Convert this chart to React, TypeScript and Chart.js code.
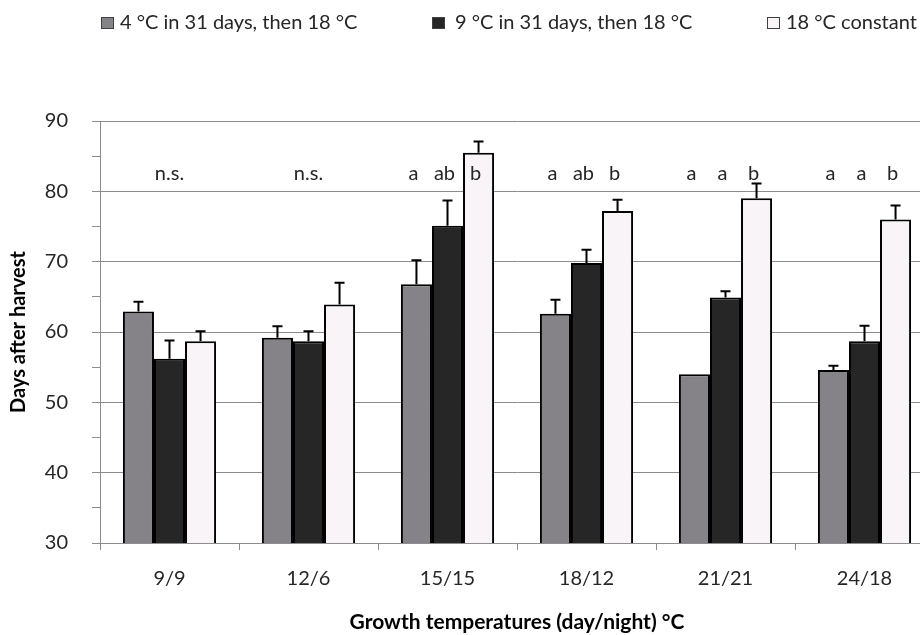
import React, { useEffect, useRef } from "react";
import { Chart, registerables } from "chart.js";

Chart.register(...registerables);

const categories = ["9/9", "12/6", "15/15", "18/12", "21/21", "24/18"];
const seriesLabels = ["4 °C in 31 days, then 18 °C", "9 °C in 31 days, then 18 °C", "18 °C constant"];
const cold4 = [62.9, 59.2, 66.8, 62.6, 54.0, 54.6];
const cold4Err = [1.4, 1.6, 3.4, 2.0, 0, 0.6];
const cold9 = [56.2, 58.7, 75.1, 69.8, 64.9, 58.7];
const cold9Err = [2.6, 1.4, 3.6, 1.9, 0.9, 2.2];
const constant18 = [58.7, 63.9, 85.5, 77.2, 79.0, 76.0];
const constant18Err = [1.4, 3.1, 1.6, 1.6, 2.1, 2.0];
const significance: (string | string[])[] = [
  "n.s.",
  "n.s.",
  ["a", "ab", "b"],
  ["a", "ab", "b"],
  ["a", "a", "b"],
  ["a", "a", "b"],
];
const annotationLevel = 81.6;
const yMin = 30;
const yMax = 90;

const FONT = "Lato, 'Open Sans', sans-serif";
const TEXT = "#262626";
const GRID = "#8c8c8c";

const errorBarPlugin = {
  id: "errorBars",
  afterDatasetsDraw(chart: any) {
    const ctx = chart.ctx;
    const yScale = chart.scales.y;
    ctx.save();
    ctx.strokeStyle = "#000";
    ctx.lineWidth = 2;
    chart.data.datasets.forEach((ds: any, d: number) => {
      const meta = chart.getDatasetMeta(d);
      meta.data.forEach((el: any, i: number) => {
        const err = ds.errors[i];
        if (!err) return;
        const x = el.x;
        const yTop = yScale.getPixelForValue(ds.data[i]);
        const yErr = yScale.getPixelForValue(ds.data[i] + err);
        ctx.beginPath();
        ctx.moveTo(x, yTop);
        ctx.lineTo(x, yErr);
        ctx.moveTo(x - 5, yErr);
        ctx.lineTo(x + 5, yErr);
        ctx.stroke();
      });
    });
    ctx.restore();
  },
};

const letterPlugin = {
  id: "letters",
  afterDatasetsDraw(chart: any) {
    const ctx = chart.ctx;
    const xScale = chart.scales.x;
    const y = chart.scales.y.getPixelForValue(annotationLevel);
    ctx.save();
    ctx.font = `20px ${FONT}`;
    ctx.fillStyle = TEXT;
    ctx.textAlign = "center";
    ctx.textBaseline = "alphabetic";
    significance.forEach((s, i) => {
      if (typeof s === "string") {
        ctx.fillText(s, xScale.getPixelForValue(i), y);
      } else {
        s.forEach((letter, d) => {
          const el = chart.getDatasetMeta(d).data[i];
          ctx.fillText(letter, el.x - 3, y);
        });
      }
    });
    ctx.restore();
  },
};

const legendPlugin = {
  id: "topLegend",
  afterDraw(chart: any) {
    const ctx = chart.ctx;
    const left = chart.chartArea.left;
    const boxOffsets = [1, 332, 667];
    const textOffsets = [20, 355, 686];
    const y = 23;
    ctx.save();
    ctx.font = `20px ${FONT}`;
    ctx.textBaseline = "middle";
    ctx.textAlign = "left";
    chart.data.datasets.forEach((ds: any, d: number) => {
      const bx = left + boxOffsets[d];
      ctx.fillStyle = ds.backgroundColor;
      ctx.fillRect(bx, y - 6, 13, 12);
      ctx.strokeStyle = "#404040";
      ctx.lineWidth = 1;
      ctx.strokeRect(bx + 0.5, y - 5.5, 12, 11);
      ctx.fillStyle = TEXT;
      ctx.fillText(ds.label, left + textOffsets[d], y);
    });
    ctx.restore();
  },
};

export default function App() {
  const canvasRef = useRef<HTMLCanvasElement | null>(null);

  useEffect(() => {
    if (!canvasRef.current) return;
    const chart = new Chart(canvasRef.current, {
      type: "bar",
      data: {
        labels: categories,
        datasets: [
          {
            label: seriesLabels[0],
            data: cold4,
            errors: cold4Err,
            backgroundColor: "#858387",
            borderColor: "#000",
            borderWidth: 2,
          } as any,
          {
            label: seriesLabels[1],
            data: cold9,
            errors: cold9Err,
            backgroundColor: "#262626",
            borderColor: "#000",
            borderWidth: 2,
          } as any,
          {
            label: seriesLabels[2],
            data: constant18,
            errors: constant18Err,
            backgroundColor: "#f8f4f8",
            borderColor: "#000",
            borderWidth: 2,
          } as any,
        ],
      },
      options: {
        animation: false,
        responsive: true,
        maintainAspectRatio: false,
        layout: { padding: { top: 121, right: 16, left: 0, bottom: 0 } },
        datasets: { bar: { categoryPercentage: 0.67, barPercentage: 1.0 } },
        plugins: {
          legend: { display: false },
          tooltip: { enabled: false },
        },
        scales: {
          x: {
            afterFit: (scale: any) => {
              scale.height = 92;
            },
            grid: {
              offset: true,
              drawOnChartArea: false,
              drawTicks: true,
              tickLength: 7,
              color: GRID,
            },
            border: { display: true, color: GRID, width: 1 },
            ticks: {
              color: TEXT,
              font: { family: FONT, size: 20 },
              padding: 17,
            },
            title: {
              display: true,
              text: "Growth temperatures (day/night) °C",
              color: "#000",
              font: { family: FONT, size: 21, weight: "bold" },
              padding: { top: 0, bottom: 0 },
            },
          },
          y: {
            min: yMin,
            max: yMax,
            afterFit: (scale: any) => {
              scale.width = 100;
            },
            grid: {
              color: (ctx: any) => (ctx.tick && ctx.tick.value % 10 === 0 ? GRID : "rgba(0,0,0,0)"),
              tickColor: GRID,
              tickLength: 8,
              drawTicks: true,
            },
            border: { display: true, color: GRID, width: 1 },
            ticks: {
              stepSize: 5,
              color: TEXT,
              font: { family: FONT, size: 20 },
              padding: 24,
              callback: (v: any) => (Number(v) % 10 === 0 ? String(v) : ""),
            },
            title: {
              display: true,
              text: "Days after harvest",
              color: "#000",
              font: { family: FONT, size: 20, weight: "bold" },
              padding: { top: 7, bottom: 0 },
            },
          },
        },
      } as any,
      plugins: [errorBarPlugin, letterPlugin, legendPlugin],
    });
    return () => chart.destroy();
  }, []);

  return (
    <div style={{ position: "fixed", left: 0, top: 0, width: 920, height: 635, overflow: "hidden", background: "#fff" }}>
      <div style={{ position: "relative", width: 950, height: 635 }}>
        <canvas ref={canvasRef} />
      </div>
    </div>
  );
}
